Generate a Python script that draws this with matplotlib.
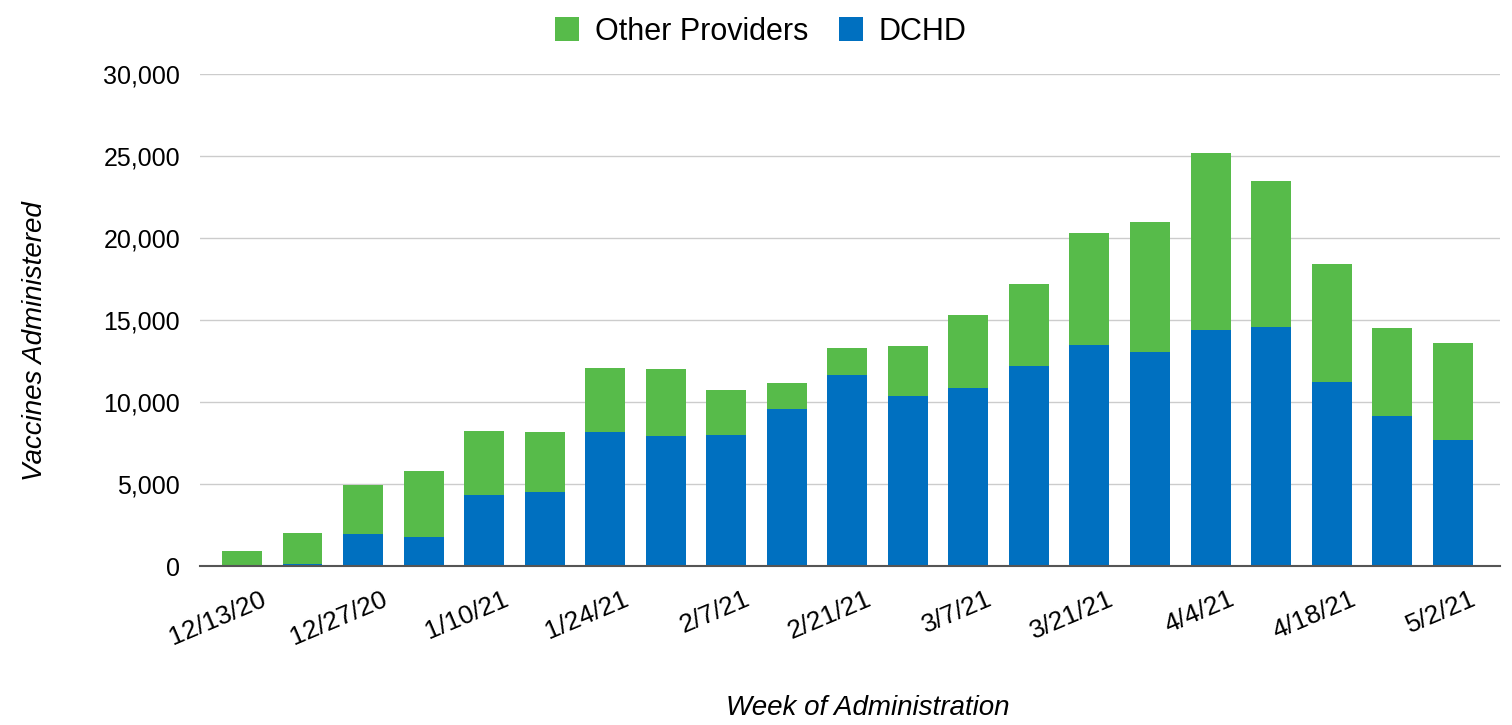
import numpy as np
from matplotlib import pyplot as plt
from matplotlib.ticker import FuncFormatter
from matplotlib.transforms import ScaledTranslation

weeks = ["12/13/20", "12/20/20", "12/27/20", "1/3/21", "1/10/21", "1/17/21", "1/24/21",
         "1/31/21", "2/7/21", "2/14/21", "2/21/21", "2/28/21", "3/7/21", "3/14/21",
         "3/21/21", "3/28/21", "4/4/21", "4/11/21", "4/18/21", "4/25/21", "5/2/21"]
dchd = [0, 120, 1950, 1770, 4330, 4510, 8170, 7930, 7990, 9570, 11650, 10370, 10850,
        12200, 13480, 13050, 14390, 14570, 11220, 9150, 7680]
totals = [900, 2000, 4940, 5790, 8230, 8170, 12070, 12010, 10730, 11160, 13290, 13410,
          15300, 17200, 20300, 20980, 25180, 23480, 18410, 14510, 13600]
other = [t - d for t, d in zip(totals, dchd)]

plt.rcParams["font.family"] = ["Liberation Sans", "DejaVu Sans"]

fig = plt.figure(figsize=(15.12, 7.25), dpi=100)
ax = fig.add_axes([0.132, 0.219, 0.860, 0.679])

x = np.arange(len(weeks))
ax.bar(x, dchd, 0.66, color="#0070c0", label="DCHD", zorder=3)
ax.bar(x, other, 0.66, bottom=dchd, color="#57bb4a", label="Other Providers", zorder=3)

ax.set_ylim(0, 30000)
ax.set_xlim(-0.7, 20.78)
ax.set_yticks(range(0, 30001, 5000))
ax.yaxis.set_major_formatter(FuncFormatter(lambda v, p: "{:,}".format(int(v))))
ax.set_xticks(x[::2])
ax.set_xticklabels(weeks[::2], rotation=23, ha="right", rotation_mode="anchor")
ax.tick_params(axis="x", length=0, labelsize=19, pad=15)
ax.tick_params(axis="y", length=0, labelsize=18, pad=14)
ax.grid(axis="y", color="#cccccc", linewidth=1, zorder=0)

# nudge the rotated date labels a little to the right, like the original
shift = ScaledTranslation(0.18, 0, fig.dpi_scale_trans)
for lab in ax.get_xticklabels():
    lab.set_transform(lab.get_transform() + shift)

for side in ["top", "right", "left"]:
    ax.spines[side].set_visible(False)
ax.spines["bottom"].set_color("#555555")
ax.spines["bottom"].set_linewidth(1.5)
ax.spines["bottom"].set_zorder(4)

fig.text(0.023, 0.53, "Vaccines Administered", fontsize=20, style="italic",
         rotation=90, ha="center", va="center")
fig.text(0.574, 0.024, "Week of Administration", fontsize=20, style="italic",
         ha="center", va="center")

handles, labels = ax.get_legend_handles_labels()
fig.legend(handles[::-1], labels[::-1], loc="upper center", bbox_to_anchor=(0.503, 1.015),
           ncol=2, frameon=False, fontsize=22, handlelength=0.8, handleheight=0.8,
           columnspacing=1.0, handletextpad=0.5)

plt.savefig("out.png", dpi=100)
